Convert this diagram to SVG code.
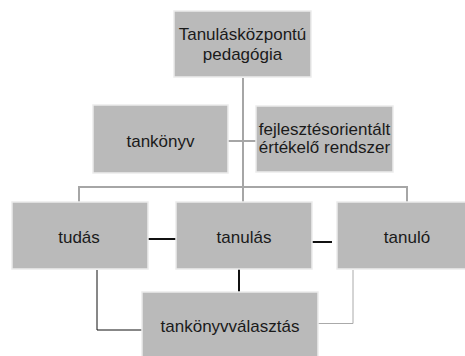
<svg xmlns="http://www.w3.org/2000/svg" width="465" height="356" viewBox="0 0 465 356">
<style>
.box{fill:#bababa;stroke:#ececec;stroke-width:1.5}
.t{font-family:"Liberation Sans",Arial,sans-serif;font-size:17px;fill:#1a1a1a;text-anchor:middle}
.g{stroke:#a6a6a6;stroke-width:2;fill:none}
.k{stroke:#111;stroke-width:2;fill:none}
.k1{stroke:#111;stroke-width:1;fill:none}
.g1{stroke:#aaaaaa;stroke-width:1;fill:none}
</style>
<rect width="465" height="356" fill="#fff"/>
<g id="connectors">
<path class="g" d="M243 78V187M79 202V187H407V202M243 187V202M228 141H256"/>
<path class="k" d="M143 239H178M297 242H332M239 260V292"/>
<path class="k1" d="M97 270V330H142"/>
<path class="g1" d="M353 270V323.5H318"/>
</g>
<g id="n1"><rect class="box" x="174" y="11" width="137" height="66"/>
<text class="t" x="242.5" y="40">Tanulásközpontú</text><text class="t" x="242.5" y="60">pedagógia</text></g>
<g id="n2"><rect class="box" x="93" y="105" width="135" height="68"/>
<text class="t" x="160.5" y="147">tankönyv</text></g>
<g id="n3"><rect class="box" x="256" y="106" width="137" height="66"/>
<text class="t" x="324.5" y="135">fejlesztésorientált</text>
<text class="t" x="324.5" y="153">értékelő rendszer</text></g>
<g id="n4"><rect class="box" x="12" y="202" width="136" height="67"/>
<text class="t" x="79" y="243">tudás</text></g>
<g id="n5"><rect class="box" x="176" y="202" width="136" height="67"/>
<text class="t" x="244" y="243">tanulás</text></g>
<g id="n6"><rect class="box" x="337" y="202" width="140" height="67"/>
<text class="t" x="407" y="243">tanuló</text></g>
<g id="n7"><rect class="box" x="142" y="292" width="176" height="70"/>
<text class="t" x="230" y="332">tankönyvválasztás</text></g>
</svg>
